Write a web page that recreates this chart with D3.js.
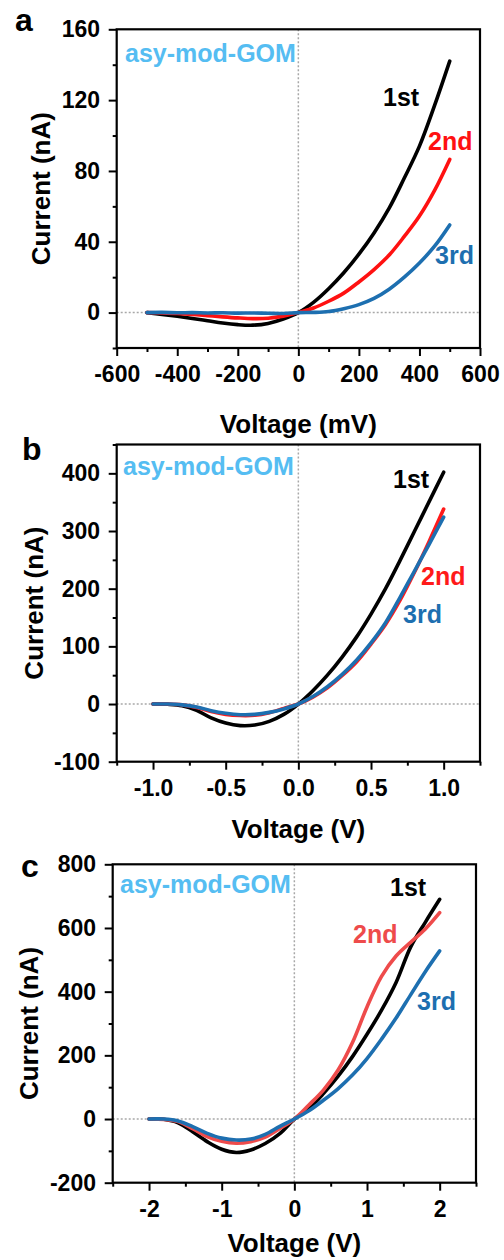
<!DOCTYPE html>
<html><head><meta charset="utf-8">
<script src="https://cdn.jsdelivr.net/npm/d3@7"></script>
<style>
html,body{margin:0;padding:0;background:#fff;}
text{font-family:"Liberation Sans",Arial,sans-serif;font-weight:bold;}
</style></head>
<body><svg id="c" width="504" height="1260"></svg>
<script>
// ---- data ----
const seriesNames = ["1st", "2nd", "3rd"];
const voltA = [-500,-450,-400,-350,-300,-250,-200,-150,-100,-50,0,50,100,150,200,250,300,350,400,450,500];
const currA1 = [0,-1.0,-2.1,-3.3,-4.6,-5.9,-6.8,-7.1,-6.1,-3.6,0,5.8,13.5,22.5,33,45,59,76,94,117,142];
const currA2 = [0,-0.2,-0.5,-1.0,-1.7,-2.4,-3.0,-3.4,-3.2,-2.0,0,2.6,6.4,11,17.3,24.3,32.5,43,54.5,69,86.5];
const currA3 = [0,0.1,-0.1,0,-0.2,-0.1,-0.3,-0.2,-0.4,-0.5,0,0.1,0.6,2.2,4.5,8,13.2,20,28,37.5,49.5];

const voltB = [-1,-0.9,-0.8,-0.7,-0.6,-0.5,-0.4,-0.3,-0.2,-0.1,0,0.1,0.2,0.3,0.4,0.5,0.6,0.7,0.8,0.9,1.0];
const currB1 = [0,-0.5,-3,-11,-24,-33,-37.5,-36.5,-30,-18,0,23,50,81,116,156,200,249,300,351,402];
const currB2 = [0,0,-1.5,-6,-13,-18,-20,-19.5,-15,-7.5,0,12,28,49,73,104,138,180,229,282,338];
const currB3 = [0,0,-1.5,-5,-11.5,-16,-18.5,-18,-14.5,-8.5,0,13,30,51,76,106,141,185,231,277,324];

const voltC = [-2,-1.8,-1.6,-1.4,-1.2,-1.0,-0.8,-0.6,-0.4,-0.2,0,0.2,0.4,0.6,0.8,1.0,1.2,1.4,1.6,1.8,2.0];
const currC1 = [0,-1,-12,-40,-71,-95,-105,-97,-77,-46,0,33,80,134,196,266,342,429,540,617,690];
const currC2 = [0,-1,-8,-30,-55,-70,-76,-71,-57,-30,0,44,91,153,240,352,448,512,555,596,648];
const currC3 = [0,0,-6,-24,-45,-60,-66,-63,-48,-23,0,26,59,95,138,190,251,317,390,462,528];

const xTicksA = [-600,-400,-200,0,200,400,600];
const yTicksA = [0,40,80,120,160];
const xTicksB = [-1.0,-0.5,0.0,0.5,1.0];
const yTicksB = [-100,0,100,200,300,400];
const xTicksC = [-2,-1,0,1,2];
const yTicksC = [-200,0,200,400,600,800];

const sampleLabel = "asy-mod-GOM";

// ---- layout ----
const panels = [
  {letter:"a", volt:voltA, curr:[currA1,currA2,currA3], xd:[-600,600], yd:[-20,160],
   xt:xTicksA, yt:yTicksA, xm:d3.range(-500,600,200), ym:d3.range(-20,161,40),
   fmt:d=>String(d), xlabel:"Voltage (mV)",
   L:116.7, R:480, T:29.3, B:348, xlabY:433, ylabX:50, letterPos:[15,31],
   colors:["#000","#ff1111","#1d6fb0"],
   labPos:[[383,106],[428,149.5],[435,264]], gomPos:[125,62]},
  {letter:"b", volt:voltB, curr:[currB1,currB2,currB3], xd:[-1.25,1.25], yd:[-100,450],
   xt:xTicksB, yt:yTicksB, xm:[-1.25,-0.75,-0.25,0.25,0.75,1.25], ym:[-50,50,150,250,350,450],
   fmt:d=>d.toFixed(1), xlabel:"Voltage (V)",
   L:116.7, R:480, T:444.5, B:761.7, xlabY:838, ylabX:43, letterPos:[22,460],
   colors:["#000","#ff1a1a","#1d6fb0"],
   labPos:[[393,487.5],[421,585],[403,623]], gomPos:[123,475]},
  {letter:"c", volt:voltC, curr:[currC1,currC2,currC3], xd:[-2.5,2.5], yd:[-200,800],
   xt:xTicksC, yt:yTicksC, xm:[-2.5,-1.5,-0.5,0.5,1.5,2.5], ym:[-100,100,300,500,700],
   fmt:d=>String(d), xlabel:"Voltage (V)",
   L:112.7, R:476, T:864.3, B:1182.7, xlabY:1252, ylabX:38, letterPos:[21,877],
   colors:["#000","#ee4b4b","#1d6fb0"],
   labPos:[[390,895.5],[353,943],[417,1010]], gomPos:[120,893]}
];

const svg = d3.select("#c");

panels.forEach(p => {
  const g = svg.append("g");
  const x = d3.scaleLinear().domain(p.xd).range([p.L, p.R]);
  const y = d3.scaleLinear().domain(p.yd).range([p.B, p.T]);

  // reference dotted lines
  g.append("line").attr("x1", x(0)).attr("x2", x(0)).attr("y1", p.T).attr("y2", p.B)
    .attr("stroke", "#a8a8a8").attr("stroke-width", 1.5).attr("stroke-dasharray", "2,2");
  g.append("line").attr("x1", p.L).attr("x2", p.R).attr("y1", y(0)).attr("y2", y(0))
    .attr("stroke", "#a8a8a8").attr("stroke-width", 1.5).attr("stroke-dasharray", "2,2");

  // curves
  const line = d3.line().x(d => x(d[0])).y(d => y(d[1])).curve(d3.curveCatmullRom.alpha(0.5));
  p.curr.forEach((c, i) => {
    const pts = p.volt.map((v, k) => [v, c[k]]);
    g.append("path").attr("d", line(pts)).attr("fill", "none")
      .attr("stroke", p.colors[i]).attr("stroke-width", 3.6)
      .attr("stroke-linecap", "round").attr("stroke-linejoin", "round");
  });

  // axes
  const fs = 23;
  const xa = g.append("g").attr("transform", `translate(0,${p.B})`)
    .call(d3.axisBottom(x).tickValues(p.xt).tickFormat(p.fmt).tickSize(8).tickPadding(9.7).tickSizeOuter(0));
  const xm = g.append("g").attr("transform", `translate(0,${p.B})`)
    .call(d3.axisBottom(x).tickValues(p.xm).tickFormat("").tickSize(4).tickSizeOuter(0));
  const ya = g.append("g").attr("transform", `translate(${p.L},0)`)
    .call(d3.axisLeft(y).tickValues(p.yt).tickFormat(d => String(d)).tickSize(8).tickPadding(8.7).tickSizeOuter(0));
  const ym = g.append("g").attr("transform", `translate(${p.L},0)`)
    .call(d3.axisLeft(y).tickValues(p.ym).tickFormat("").tickSize(4).tickSizeOuter(0));
  [xa, xm, ya, ym].forEach(a => {
    a.select(".domain").remove();
    a.selectAll(".tick line").attr("stroke", "#000").attr("stroke-width", 2);
    a.selectAll("text").attr("fill", "#000").style("font-size", fs + "px")
      .style("font-family", '"Liberation Sans", Arial, sans-serif').style("font-weight", "bold");
  });

  // frame
  g.append("rect").attr("x", p.L).attr("y", p.T).attr("width", p.R - p.L).attr("height", p.B - p.T)
    .attr("fill", "none").attr("stroke", "#000").attr("stroke-width", 2.2);

  // axis titles
  g.append("text").attr("x", (p.L + p.R) / 2).attr("y", p.xlabY).attr("text-anchor", "middle")
    .style("font-size", "26px").text(p.xlabel);
  g.append("text").attr("transform", `translate(${p.ylabX},${(p.T + p.B) / 2}) rotate(-90)`)
    .attr("text-anchor", "middle").style("font-size", "26px").text("Current (nA)");

  // panel letter
  g.append("text").attr("x", p.letterPos[0]).attr("y", p.letterPos[1])
    .style("font-size", "32px").text(p.letter);

  // sample label
  g.append("text").attr("x", p.gomPos[0]).attr("y", p.gomPos[1])
    .attr("fill", "#55bdf2").style("font-size", "25px").text(sampleLabel);

  // series labels
  seriesNames.forEach((s, i) => {
    g.append("text").attr("x", p.labPos[i][0]).attr("y", p.labPos[i][1])
      .attr("fill", i === 0 ? "#000" : p.colors[i]).style("font-size", "25px").text(s);
  });
});
</script></body></html>
